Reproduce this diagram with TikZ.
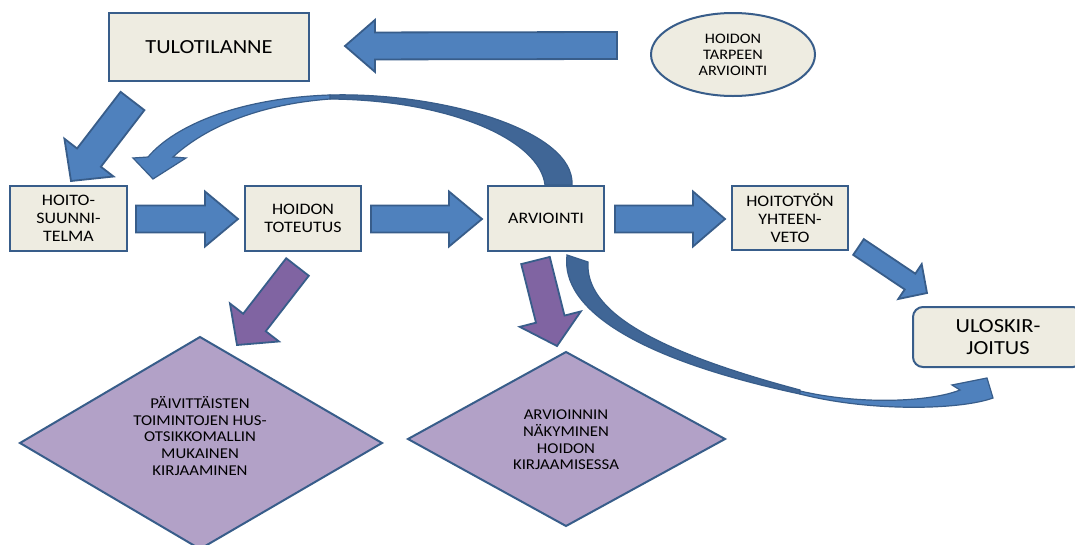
\documentclass[tikz,border=0pt]{standalone}
\usepackage{fontspec}
\setmainfont{Carlito}[FakeStretch=1.12]
\usetikzlibrary{calc,shapes.geometric}
\definecolor{abl}{HTML}{4F81BD}
\definecolor{aln}{HTML}{385D8A}
\definecolor{adk}{HTML}{406696}
\definecolor{bxf}{HTML}{EEECE1}
\definecolor{pur}{HTML}{8064A2}
\definecolor{diafill}{HTML}{B2A1C7}
\tikzset{
  box/.style={draw=aln, line width=2pt, fill=bxf, align=center, inner sep=0pt,
    font=\fontsize{16}{18}\selectfont},
  bluearrow/.style={fill=abl, draw=aln, line width=1.8pt, line join=miter},
  purarrow/.style={fill=pur, draw=aln, line width=1.8pt, line join=miter},
  darkband/.style={fill=adk, draw=aln, line width=1.2pt},
  lightband/.style={fill=abl, draw=aln, line width=1.2pt, line join=miter},
  diashape/.style={fill=diafill, draw=aln, line width=2pt, line join=miter},
  diatext/.style={align=center, inner sep=0pt, font=\fontsize{15}{16.7}\selectfont},
}
% #1 style, #2 tail, #3 tip, #4 shaft half width, #5 head half width, #6 head length
\newcommand\myfatarrow[6]{%
  \coordinate (hb) at ($(#3)!#6!(#2)$);
  \draw[#1] ($(#2)!#4!90:(#3)$) -- ($(hb)!#4!90:(#3)$) -- ($(hb)!#5!90:(#3)$)
    -- (#3) -- ($(hb)!#5!-90:(#3)$) -- ($(hb)!#4!-90:(#3)$)
    -- ($(#2)!#4!-90:(#3)$) -- cycle;
}
\begin{document}
\begin{tikzpicture}[x=1pt, y=-1pt]
\clip (0,0) rectangle (1075,544);
\fill[white] (0,0) rectangle (1075,544);

% diamonds
\draw[diashape] (200,337) -- (382,443) -- (200,549) -- (20,443) -- cycle;
\node[diatext] (d1) at (200,436) {PÄIVITTÄISTEN\\TOIMINTOJEN HUS-\\OTSIKKOMALLIN\\MUKAINEN\\KIRJAAMINEN};
\draw[diashape] (566,352) -- (725,439) -- (566,526) -- (408,439) -- cycle;
\node[diatext] (d2) at (566,440) {ARVIOINNIN\\NÄKYMINEN\\HOIDON\\KIRJAAMISESSA};

% straight fat arrows
\coordinate (tA) at (617,45.5); \coordinate (hA) at (345,46);
\myfatarrow{bluearrow}{tA}{hA}{13.5pt}{26pt}{30pt}
\coordinate (tB) at (132.5,101); \coordinate (hB) at (71,181);
\myfatarrow{bluearrow}{tB}{hB}{15pt}{31pt}{29.5pt}
\coordinate (tC) at (136,219); \coordinate (hC) at (238,219);
\myfatarrow{bluearrow}{tC}{hC}{13.5pt}{27.5pt}{33pt}
\coordinate (tD) at (371,219); \coordinate (hD) at (482,219);
\myfatarrow{bluearrow}{tD}{hD}{13.5pt}{27.5pt}{33pt}
\coordinate (tE) at (615,219); \coordinate (hE) at (725,219);
\myfatarrow{bluearrow}{tE}{hE}{13.5pt}{27.5pt}{32pt}
\coordinate (tF) at (858.5,247); \coordinate (hF) at (927,293);
\myfatarrow{bluearrow}{tF}{hF}{9.5pt}{21pt}{20.5pt}
\coordinate (tG) at (297.5,267); \coordinate (hG) at (237,345);
\myfatarrow{purarrow}{tG}{hG}{14.3pt}{31pt}{28.5pt}
\coordinate (tH) at (535.5,260.5); \coordinate (hH) at (557,346);
\myfatarrow{purarrow}{tH}{hH}{14.7pt}{31.5pt}{27.7pt}

% curved arrow: ARVIOINTI -> HOITO-SUUNNITELMA
\draw[darkband] (330,95) .. controls (440,92) and (575,130) .. (572,185)
  -- (545,185) .. controls (540,140) and (450,100) .. (330,99) -- cycle;
\draw[lightband] (148,157) .. controls (175,125) and (240,98) .. (330,95)
  -- (330,99) .. controls (250,105) and (200,132) .. (173,157)
  -- (186,158) -- (153,179) -- (133,158) -- cycle;

% curved arrow: ARVIOINTI -> ULOSKIRJOITUS
\draw[darkband] (567,255) -- (588,262) .. controls (585,310) and (650,350) .. (800,390)
  -- (800,394) .. controls (640,360) and (560,310) .. (567,255) -- cycle;
\draw[lightband] (800,391) .. controls (860,405) and (930,402) .. (960,390)
  -- (952,385) -- (987,378) -- (993,398)
  .. controls (960,410) and (870,412) .. (800,394) -- cycle;

% boxes
\node[box, minimum width=200pt, minimum height=68pt, font=\fontsize{20}{24}\selectfont] (tulo) at (209,47) {TULOTILANNE};
\node[box, minimum width=117pt, minimum height=65pt] (hoito) at (68.5,218.5) {HOITO-\\SUUNNI-\\TELMA};
\node[box, minimum width=116pt, minimum height=65pt] (tot) at (303,218.5) {HOIDON\\TOTEUTUS};
\node[box, minimum width=116pt, minimum height=65pt] (arv) at (546,218.5) {ARVIOINTI};
\node[box, minimum width=116pt, minimum height=64pt] (yht) at (790,218) {HOITOTYÖN\\YHTEEN-\\VETO};
\node[box, rounded corners=10pt, minimum width=170pt, minimum height=60pt, font=\fontsize{20}{21.7}\selectfont] (ulos) at (998,337) {ULOSKIR-\\JOITUS};
\node[ellipse, draw=aln, line width=2pt, fill=bxf, minimum width=164pt, minimum height=83pt,
  align=center, inner sep=0pt, font=\fontsize{14.5}{16}\selectfont] (tarve) at (733,54.5) {HOIDON\\TARPEEN\\ARVIOINTI};
\end{tikzpicture}
\end{document}
